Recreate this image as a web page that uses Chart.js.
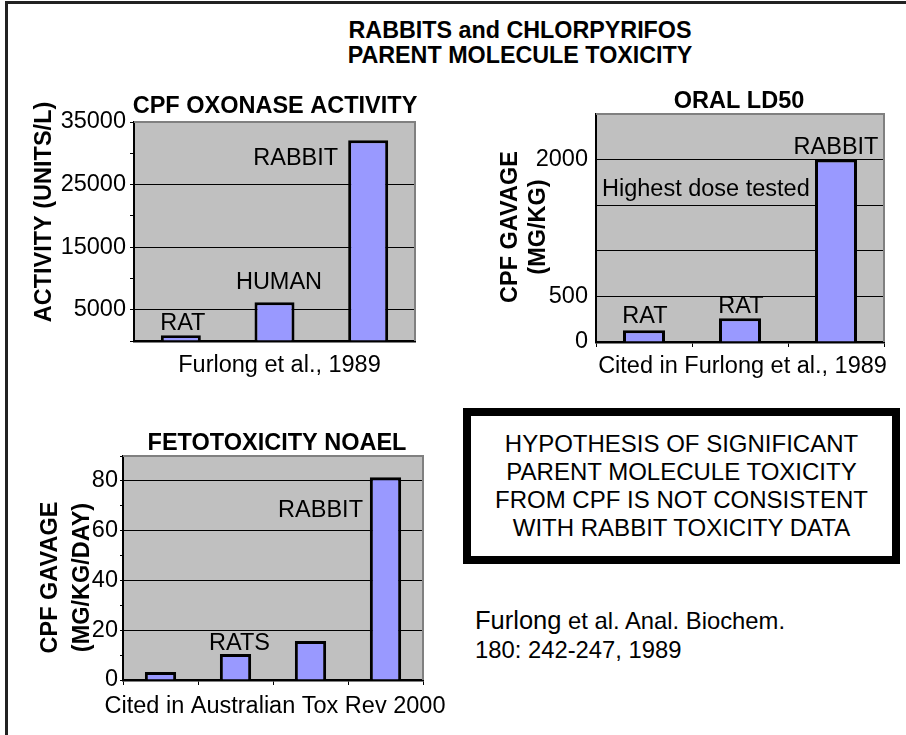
<!DOCTYPE html>
<html><head><meta charset="utf-8">
<script src="https://cdn.jsdelivr.net/npm/chart.js@4.4.0/dist/chart.umd.min.js"></script>
<style>
html,body{margin:0;padding:0;background:#fff;width:906px;height:735px;overflow:hidden;}
body{position:relative;font-family:Arial,"Liberation Sans",sans-serif;color:#000;}
#frame{position:absolute;left:5px;top:1px;width:1000px;height:1000px;border-left:3px solid #222;border-top:3px solid #222;}
canvas{position:absolute;}
#mainTitle{position:absolute;left:320px;top:17.8px;width:400px;text-align:center;font-weight:bold;font-size:23.3px;line-height:25px;white-space:nowrap;}
#box{position:absolute;left:463px;top:408px;width:437px;height:156px;box-sizing:border-box;border:8px solid #000;text-align:center;font-size:24px;line-height:28.3px;padding-top:13.6px;white-space:nowrap;}
#cite{position:absolute;left:475px;top:606.2px;font-size:23.8px;line-height:29px;white-space:nowrap;}
#cite .big{font-size:25.5px;line-height:1;}
</style>
</head><body>
<div id="frame"></div>
<div id="mainTitle">RABBITS and CHLORPYRIFOS<br>PARENT MOLECULE TOXICITY</div>
<canvas id="c1" width="430" height="305" style="left:0px;top:85px;"></canvas>
<canvas id="c2" width="466" height="305" style="left:440px;top:85px;"></canvas>
<canvas id="c3" width="462" height="335" style="left:0px;top:400px;"></canvas>
<div id="box">HYPOTHESIS OF SIGNIFICANT<br>PARENT MOLECULE TOXICITY<br>FROM CPF IS NOT CONSISTENT<br>WITH RABBIT TOXICITY DATA</div>
<div id="cite"><span class="big">Furlong</span> et al. Anal. Biochem.<br>180: 242-247, 1989</div>
<script>
const FONT = 'Arial, "Liberation Sans", sans-serif';

// ---- data ----
const oxCategories = ['RAT', 'HUMAN', 'RABBIT'];
const oxValues = [900, 6200, 32100];
const oxTickLabels = [5000, 15000, 25000, 35000];
const oxGridValues = [5000, 15000, 25000];

const ldCategories = ['RAT', 'RAT', 'RABBIT'];
const ldValues = [130, 260, 2000];
const ldTickLabels = [0, 500, 2000];
const ldGridValues = [500, 1000, 1500, 2000];

const fetoCategories = ['RAT', 'RAT', 'RAT', 'RABBIT'];
const fetoValues = [3.2, 10.4, 15.7, 81.5];
const fetoTickLabels = [0, 20, 40, 60, 80];
const fetoGridValues = [20, 40, 60, 80];

const decor = {
  id: 'decor',
  beforeDraw(chart) {
    const {ctx, chartArea: a} = chart;
    ctx.save();
    ctx.fillStyle = '#c0c0c0';
    ctx.fillRect(a.left, a.top, a.right - a.left, a.bottom - a.top);
    ctx.restore();
  },
  afterDraw(chart, args, o) {
    const {ctx, chartArea: a} = chart;
    ctx.save();
    ctx.strokeStyle = '#808080';
    ctx.lineWidth = 2;
    ctx.beginPath();
    ctx.moveTo(a.left, a.top);
    ctx.lineTo(a.right, a.top);
    ctx.lineTo(a.right, a.bottom);
    ctx.stroke();

    ctx.fillStyle = '#000';
    ctx.textBaseline = 'alphabetic';
    ctx.font = 'bold 23.5px ' + FONT;
    ctx.textAlign = 'center';
    ctx.fillText(o.title, (a.left + a.right) / 2 + o.titleDx, a.top + o.titleDy);

    o.yTitle.forEach((t, i) => {
      ctx.save();
      ctx.translate(o.yTitleX[i], (a.top + a.bottom) / 2 + o.yTitleDy);
      ctx.rotate(-Math.PI / 2);
      ctx.fillText(t, 0, 0);
      ctx.restore();
    });

    ctx.font = '23.5px ' + FONT;
    ctx.textAlign = 'center';
    ctx.fillText(o.caption, (a.left + a.right) / 2 + o.captionDx, a.bottom + o.captionDy);

    const xs = chart.scales.x, ys = chart.scales.y;
    const vals = chart.data.datasets[0].data;
    o.notes.forEach(n => {
      ctx.textAlign = n.align;
      const x = n.fromLeft ? a.left + n.dx : xs.getPixelForValue(n.index) + n.dx;
      const y = ys.getPixelForValue(vals[n.index]) + n.dy;
      ctx.fillText(n.text, x, y);
    });
    ctx.restore();
  }
};

function makeChart(id, cats, vals, cfg) {
  return new Chart(document.getElementById(id), {
    type: 'bar',
    data: {
      labels: cats,
      datasets: [{
        data: vals,
        backgroundColor: '#9999ff',
        borderColor: '#000',
        borderWidth: 3,
        borderSkipped: 'start',
        categoryPercentage: 1,
        barPercentage: cfg.barPct
      }]
    },
    options: {
      responsive: false,
      animation: false,
      devicePixelRatio: 1,
      events: [],
      layout: {padding: cfg.padding},
      scales: {
        x: {
          z: 1,
          afterFit: s => { s.height = cfg.xHeight; },
          ticks: {display: false},
          grid: cfg.xGrid,
          border: {color: '#000', width: 2.5},
          title: {display: false}
        },
        y: {
          min: 0, max: cfg.max,
          afterFit: s => { s.width = cfg.yWidth; },
          ticks: {
            stepSize: cfg.step, autoSkip: false, color: '#000', padding: cfg.tickPad,
            font: {family: FONT, size: 23.5},
            callback: v => cfg.tickLabels.includes(v) ? String(v) : ''
          },
          grid: {
            color: c => cfg.gridValues.includes(c.tick.value) ? '#000' : 'rgba(0,0,0,0)',
            tickColor: '#000',
            lineWidth: 1,
            drawTicks: cfg.yTicks,
            tickLength: cfg.yTickLen
          },
          border: {color: '#000', width: 2}
        }
      },
      plugins: {
        legend: {display: false},
        tooltip: {enabled: false},
        decor: cfg.decor
      }
    },
    plugins: [decor]
  });
}

makeChart('c1', oxCategories, oxValues, {
  barPct: 0.427,
  padding: {left: 0, top: 37, right: 15, bottom: 0},
  xHeight: 49, yWidth: 134,
  xGrid: {display: false},
  max: 35000, step: 5000, tickPad: 4,
  tickLabels: oxTickLabels, gridValues: oxGridValues,
  yTicks: true, yTickLen: 4,
  decor: {
    title: 'CPF OXONASE ACTIVITY', titleDx: 0.5, titleDy: -8.6,
    yTitle: ['ACTIVITY (UNITS/L)'], yTitleX: [50.5], yTitleDy: -19.5,
    caption: 'Furlong et al., 1989', captionDx: 5, captionDy: 31,
    notes: [
      {text: 'RAT', index: 0, dx: 2, dy: -5.5, align: 'center'},
      {text: 'HUMAN', index: 1, dx: 4.5, dy: -13, align: 'center'},
      {text: 'RABBIT', index: 2, dx: -30, dy: 25, align: 'right'}
    ]
  }
});

makeChart('c2', ldCategories, ldValues, {
  barPct: 0.4375,
  padding: {left: 0, top: 29, right: 22, bottom: 0},
  xHeight: 48, yWidth: 156,
  xGrid: {display: true, drawOnChartArea: false, drawTicks: true, tickLength: 5, color: '#000', tickColor: '#000'},
  max: 2500, step: 500, tickPad: 8,
  tickLabels: ldTickLabels, gridValues: ldGridValues,
  yTicks: false, yTickLen: 0,
  decor: {
    title: 'ORAL LD50', titleDx: -1, titleDy: -6,
    yTitle: ['CPF GAVAGE', '(MG/KG)'], yTitleX: [77, 105], yTitleDy: -1,
    caption: 'Cited in Furlong et al., 1989', captionDx: 2.5, captionDy: 31,
    notes: [
      {text: 'RAT', index: 0, dx: 1, dy: -7, align: 'center'},
      {text: 'RAT', index: 1, dx: 1, dy: -5, align: 'center'},
      {text: 'RABBIT', index: 2, dx: 0, dy: -6, align: 'center'},
      {text: 'Highest dose tested', index: 2, dx: 6, dy: 36, align: 'left', fromLeft: true}
    ]
  }
});

makeChart('c3', fetoCategories, fetoValues, {
  barPct: 0.417,
  padding: {left: 0, top: 56, right: 39, bottom: 0},
  xHeight: 55, yWidth: 123,
  xGrid: {display: true, drawOnChartArea: false, drawTicks: true, tickLength: 5, color: '#000', tickColor: '#000'},
  max: 90, step: 10, tickPad: 2,
  tickLabels: fetoTickLabels, gridValues: fetoGridValues,
  yTicks: true, yTickLen: 3,
  decor: {
    title: 'FETOTOXICITY NOAEL', titleDx: 4, titleDy: -6,
    yTitle: ['CPF GAVAGE', '(MG/KG/DAY)'], yTitleX: [57, 89], yTitleDy: 9.5,
    caption: 'Cited in Australian Tox Rev 2000', captionDx: 2, captionDy: 33,
    notes: [
      {text: 'RATS', index: 1, dx: 4, dy: -4, align: 'center'},
      {text: 'RABBIT', index: 3, dx: -22.5, dy: 40, align: 'right'}
    ]
  }
});
</script>
</body></html>
